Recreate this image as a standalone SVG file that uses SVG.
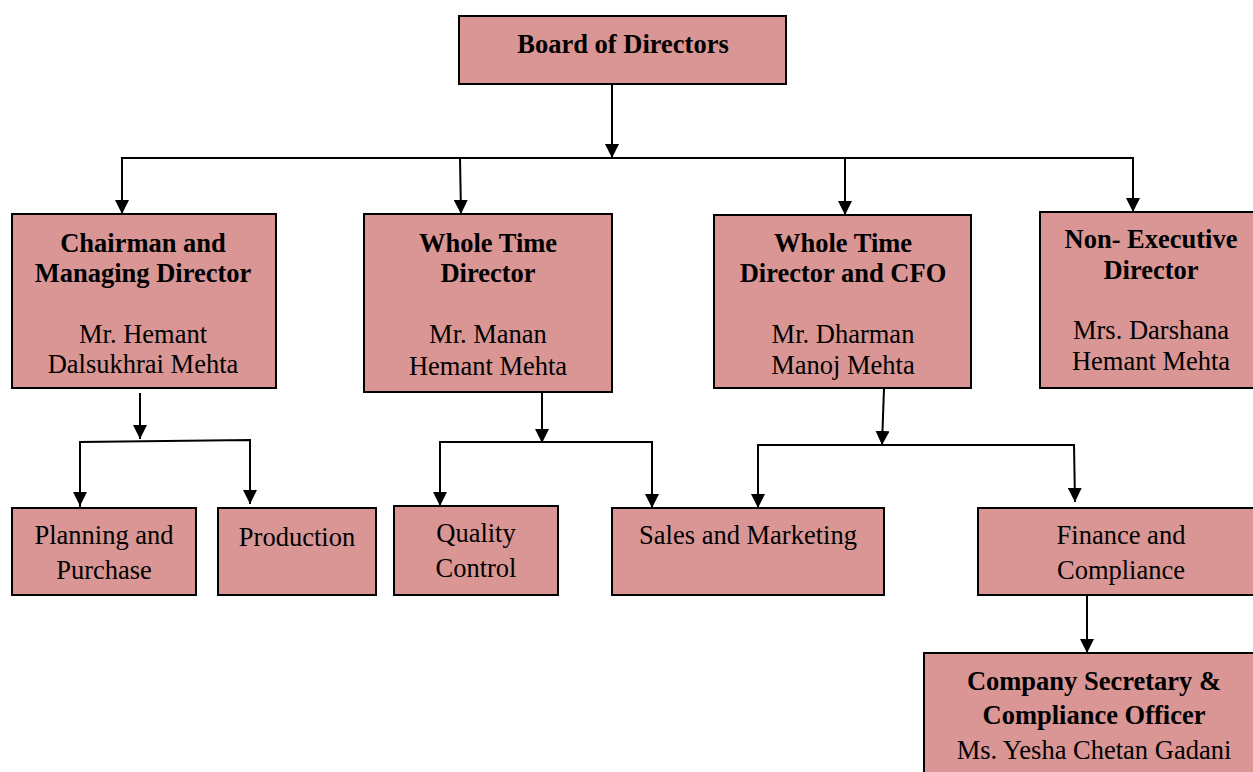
<svg xmlns="http://www.w3.org/2000/svg" width="1253" height="772" viewBox="0 0 1253 772">
<style>
.box{fill:#D99694;stroke:#000;stroke-width:2}
.t{font-family:"Liberation Serif","Times New Roman",Times,Tinos,"DejaVu Serif",serif;font-size:26.5px;fill:#000;text-anchor:middle}
.b{font-weight:bold}
.c{fill:none;stroke:#000;stroke-width:2}
</style>
<defs>
<marker id="ah" viewBox="0 0 14 14" refX="14" refY="7" markerWidth="14" markerHeight="14" markerUnits="userSpaceOnUse" orient="auto">
<path d="M0,0 L14,7 L0,14 Z" fill="#000"/>
</marker>
</defs>
<rect width="1253" height="772" fill="#fff"/>
<g id="connectors">
<line class="c" x1="612" y1="84" x2="612" y2="158" marker-end="url(#ah)"/>
<line class="c" x1="121" y1="158" x2="1134" y2="158"/>
<line class="c" x1="122" y1="158" x2="122" y2="214" marker-end="url(#ah)"/>
<line class="c" x1="460" y1="158" x2="461" y2="214" marker-end="url(#ah)"/>
<line class="c" x1="845" y1="158" x2="845" y2="215" marker-end="url(#ah)"/>
<line class="c" x1="1133" y1="158" x2="1133" y2="212" marker-end="url(#ah)"/>
<line class="c" x1="140" y1="393" x2="140" y2="439" marker-end="url(#ah)"/>
<polyline class="c" points="80,508 80,442 250,440 250,504" marker-end="url(#ah)"/>
<line class="c" x1="80" y1="450" x2="80" y2="506" marker-end="url(#ah)"/>
<line class="c" x1="542" y1="392" x2="542" y2="443" marker-end="url(#ah)"/>
<polyline class="c" points="440,506 440,442 652,442 652,508" marker-end="url(#ah)"/>
<line class="c" x1="440" y1="450" x2="440" y2="506" marker-end="url(#ah)"/>
<line class="c" x1="884" y1="388" x2="882" y2="445" marker-end="url(#ah)"/>
<polyline class="c" points="758,508 758,445 1074,445 1075,502" marker-end="url(#ah)"/>
<line class="c" x1="758" y1="455" x2="758" y2="508" marker-end="url(#ah)"/>
<line class="c" x1="1087" y1="595" x2="1087" y2="653" marker-end="url(#ah)"/>
</g>
<g id="board">
<rect class="box" x="459" y="16" width="327" height="68"/>
<text class="t b" x="623" y="53">Board of Directors</text>
</g>
<g id="chairman">
<rect class="box" x="12" y="214" width="264" height="174"/>
<text class="t b" x="143" y="252">Chairman and</text>
<text class="t b" x="143" y="282">Managing Director</text>
<text class="t" x="143" y="343">Mr. Hemant</text>
<text class="t" x="143" y="373">Dalsukhrai Mehta</text>
</g>
<g id="wtd">
<rect class="box" x="364" y="214" width="248" height="178"/>
<text class="t b" x="488" y="252">Whole Time</text>
<text class="t b" x="488" y="282">Director</text>
<text class="t" x="488" y="343">Mr. Manan</text>
<text class="t" x="488" y="375">Hemant Mehta</text>
</g>
<g id="wtdcfo">
<rect class="box" x="714" y="215" width="257" height="173"/>
<text class="t b" x="843" y="252">Whole Time</text>
<text class="t b" x="843" y="282">Director and CFO</text>
<text class="t" x="843" y="343">Mr. Dharman</text>
<text class="t" x="843" y="374">Manoj Mehta</text>
</g>
<g id="nonexec">
<rect class="box" x="1040" y="212" width="216" height="176"/>
<text class="t b" x="1151" y="248">Non- Executive</text>
<text class="t b" x="1151" y="279">Director</text>
<text class="t" x="1151" y="339">Mrs. Darshana</text>
<text class="t" x="1151" y="370">Hemant Mehta</text>
</g>
<g id="planning">
<rect class="box" x="12" y="508" width="184" height="87"/>
<text class="t" x="104" y="544">Planning and</text>
<text class="t" x="104" y="579">Purchase</text>
</g>
<g id="production">
<rect class="box" x="218" y="508" width="158" height="87"/>
<text class="t" x="297" y="546">Production</text>
</g>
<g id="quality">
<rect class="box" x="394" y="506" width="164" height="89"/>
<text class="t" x="476" y="542">Quality</text>
<text class="t" x="476" y="577">Control</text>
</g>
<g id="sales">
<rect class="box" x="612" y="508" width="272" height="87"/>
<text class="t" x="748" y="544">Sales and Marketing</text>
</g>
<g id="finance">
<rect class="box" x="978" y="508" width="278" height="87"/>
<text class="t" x="1121" y="544">Finance and</text>
<text class="t" x="1121" y="579">Compliance</text>
</g>
<g id="cs">
<rect class="box" x="924" y="653" width="332" height="125"/>
<text class="t b" x="1094" y="690">Company Secretary &amp;</text>
<text class="t b" x="1094" y="724">Compliance Officer</text>
<text class="t" x="1094" y="759">Ms. Yesha Chetan Gadani</text>
</g>
</svg>
